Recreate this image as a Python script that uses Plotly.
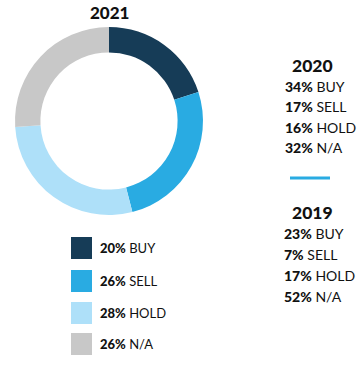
import plotly.graph_objects as go

W, H = 359, 367

categories = ["BUY", "SELL", "HOLD", "N/A"]
values_2021 = [20, 26, 28, 26]
values_2020 = [34, 17, 16, 32]
values_2019 = [23, 7, 17, 52]
colors = ["#163c57", "#29abe2", "#aee0f9", "#c8c8c8"]

FONT = "Lato"

def px(x):
    return x / W

def py(y):
    return 1 - y / H

fig = go.Figure()
fig.add_trace(go.Pie(
    labels=categories, values=values_2021, hole=0.73, sort=False,
    direction="clockwise", rotation=0,
    marker=dict(colors=colors, line=dict(width=0)),
    textinfo="none", hoverinfo="label+percent", showlegend=False,
    domain=dict(x=[px(15), px(203)], y=[py(215), py(27)]),
))

ann = []
shapes = []

def heavy(s):
    return f"<span style='font-weight:900'>{s}</span>"

def text(x, y, s, size, anchor="left"):
    ann.append(dict(x=px(x), y=py(y), xref="paper", yref="paper", text=s,
                    showarrow=False, xanchor=anchor, yanchor="middle",
                    font=dict(family=FONT, size=size, color="#111111")))

# 2021 title
text(109, 12, heavy("2021"), 17, "center")

# legend for 2021
leg_y = [248, 281, 313, 344]
for i, (c, v) in enumerate(zip(categories, values_2021)):
    yc = leg_y[i]
    shapes.append(dict(type="rect", xref="paper", yref="paper",
                       x0=px(71), x1=px(92), y0=py(yc + 11), y1=py(yc - 11),
                       fillcolor=colors[i], line=dict(width=0)))
    text(98, yc, f"{heavy(str(v) + '%')} {c}", 13)

# 2020 block
text(312, 65, heavy("2020"), 17.5, "center")
for i, (c, v) in enumerate(zip(categories, values_2020)):
    text(283, 86 + i * 20.5, f"{heavy(str(v) + '%')} {c}", 14)

# separator
shapes.append(dict(type="line", xref="paper", yref="paper",
                   x0=px(290), x1=px(330), y0=py(178), y1=py(178),
                   line=dict(color="#29abe2", width=3)))

# 2019 block
text(312, 212, heavy("2019"), 17.5, "center")
for i, (c, v) in enumerate(zip(categories, values_2019)):
    text(282, 233 + i * 21, f"{heavy(str(v) + '%')} {c}", 14)

fig.update_layout(
    width=W, height=H, margin=dict(l=0, r=0, t=0, b=0),
    paper_bgcolor="white", plot_bgcolor="white",
    annotations=ann, shapes=shapes,
)

fig.write_html("out.html", config={"displayModeBar": False},
               post_script="document.body.style.margin='0';document.body.style.overflow='hidden';")
